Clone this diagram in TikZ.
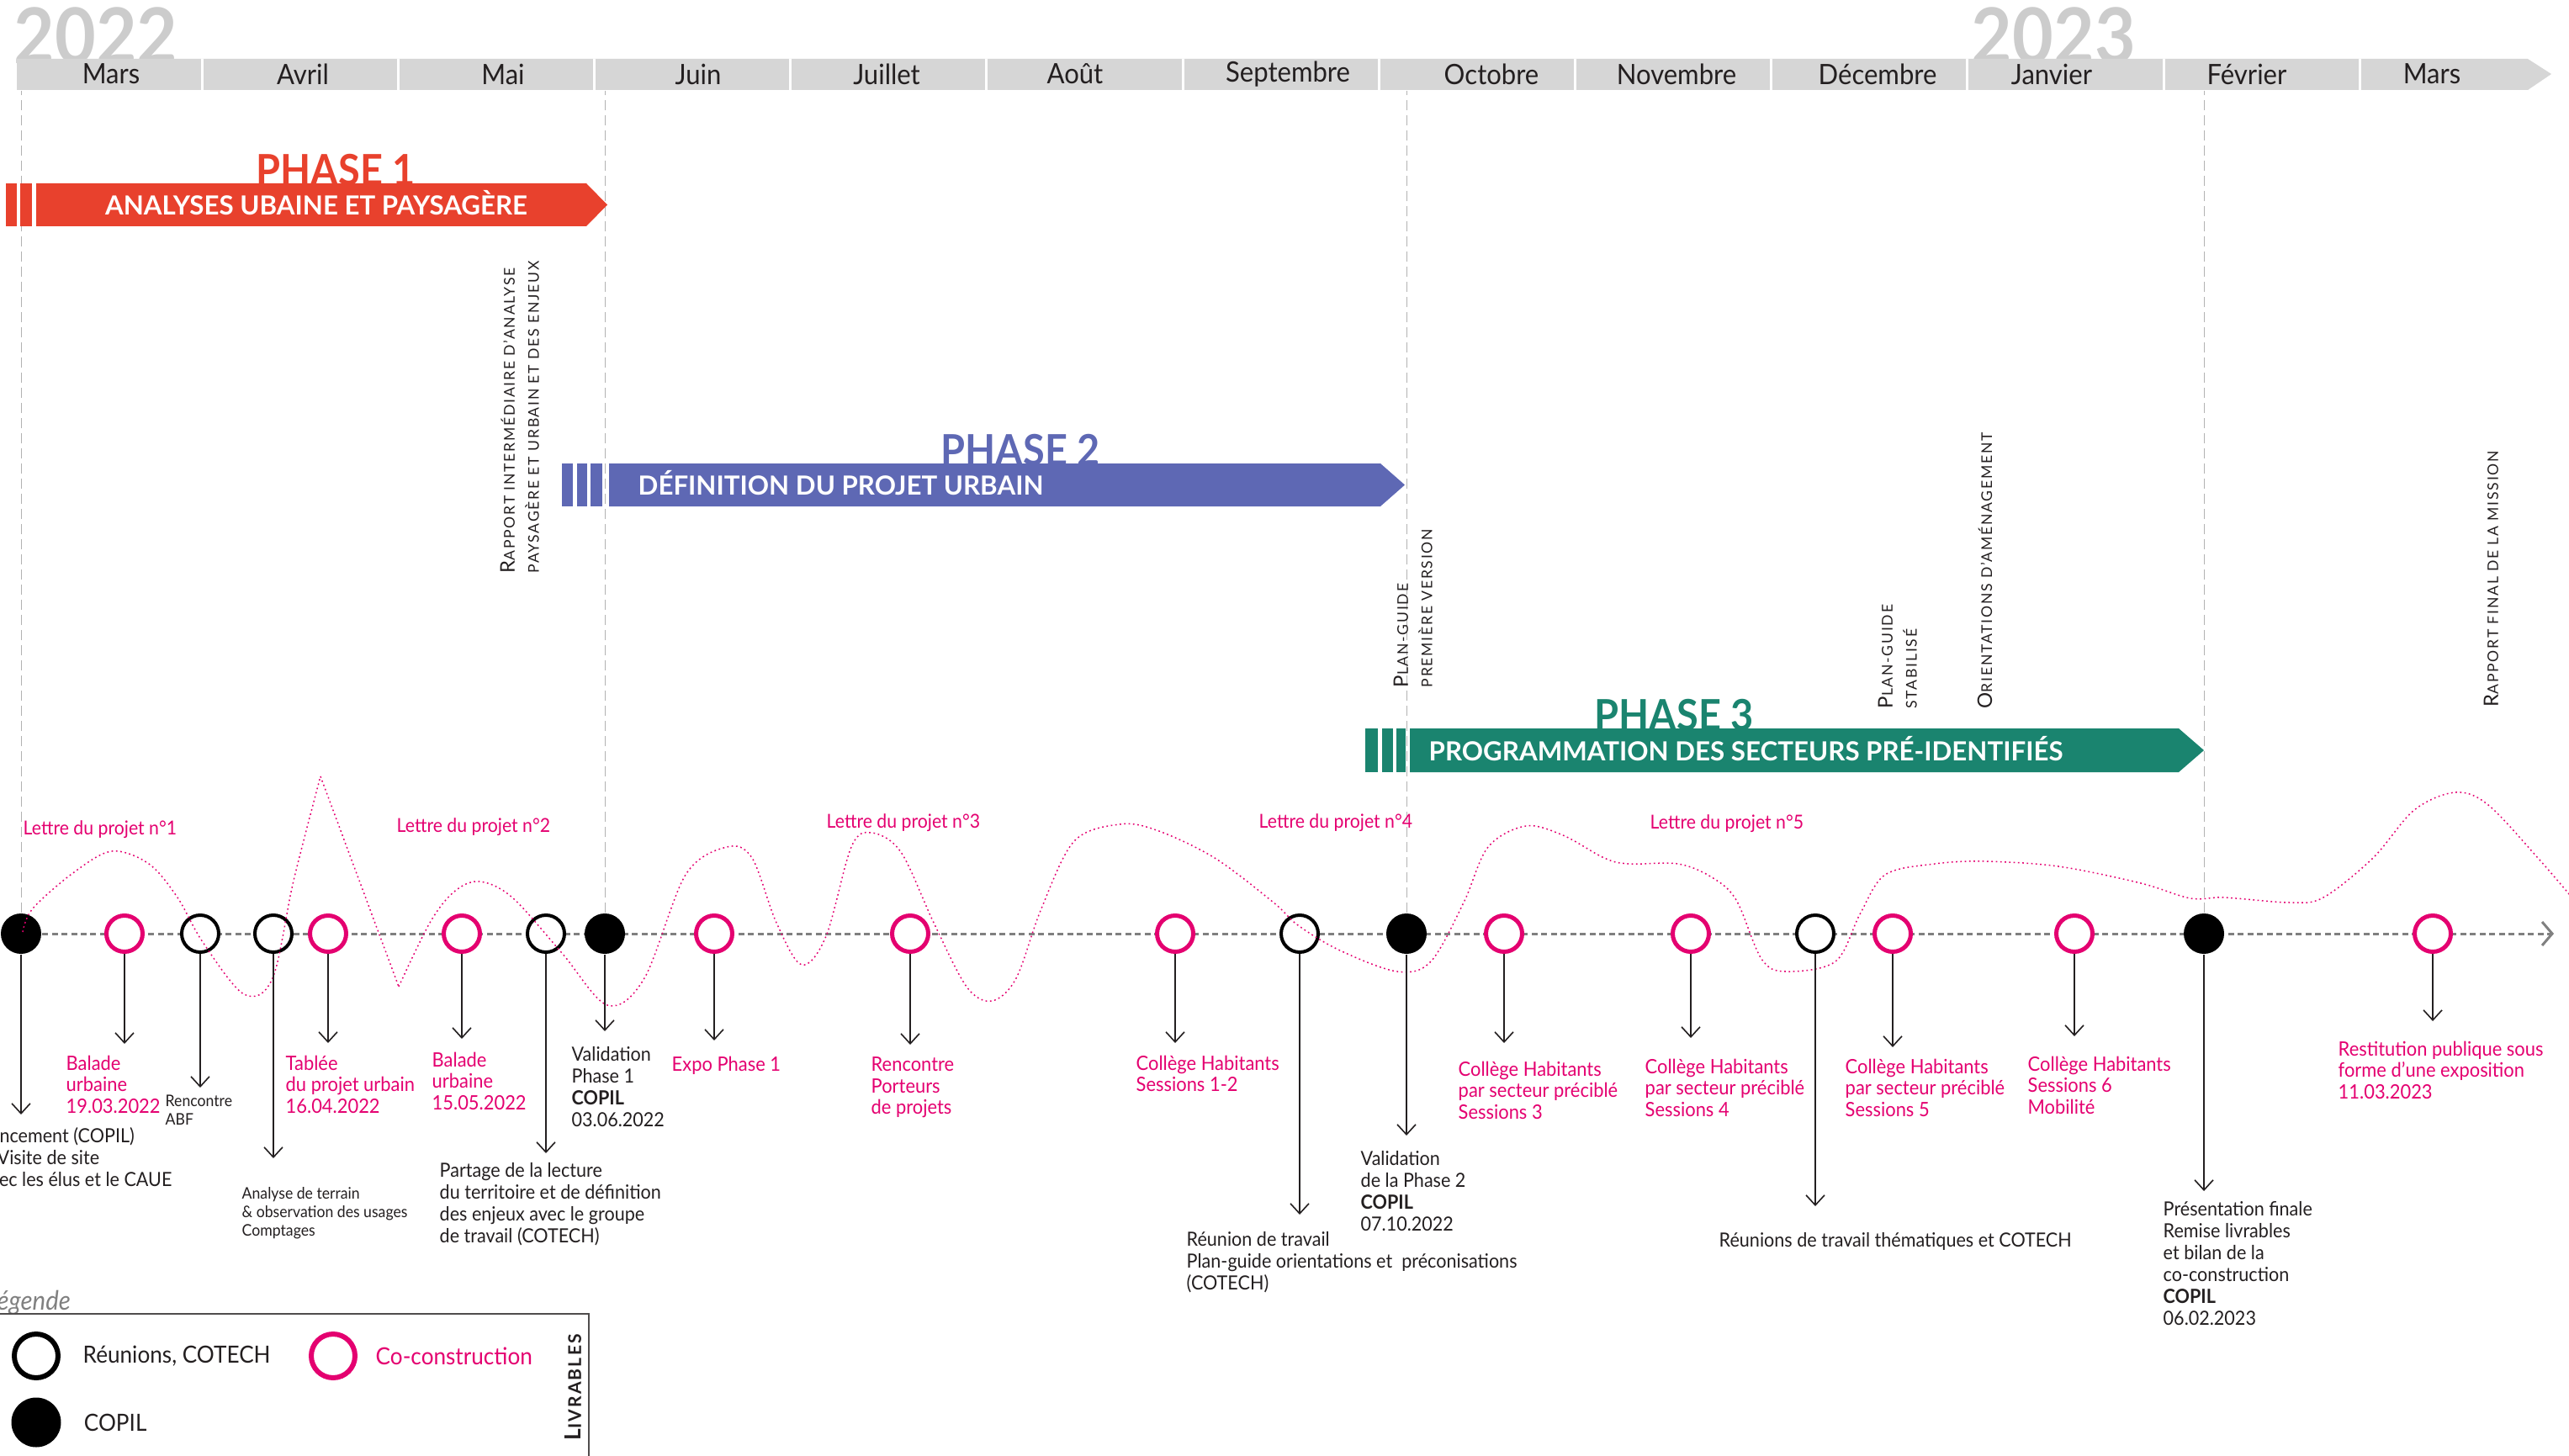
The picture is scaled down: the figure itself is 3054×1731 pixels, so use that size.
\documentclass[tikz,border=0pt]{standalone}
\usepackage{fontspec}
\setmainfont[FakeStretch=0.93]{Lato}
\newfontfamily\phasefont[FakeStretch=0.92]{Lato}
\newfontfamily\subfont{Lato}
\newfontfamily\capsfont[LetterSpace=10]{Lato}
\usepackage{tikz}
\usetikzlibrary{arrows.meta}

\definecolor{phaseone}{RGB}{232,65,45}
\definecolor{phasetwo}{RGB}{94,104,180}
\definecolor{phasethree}{RGB}{26,132,111}
\definecolor{pinkco}{RGB}{228,0,112}
\definecolor{barfill}{RGB}{214,214,214}
\definecolor{yeargrey}{RGB}{204,204,204}
\definecolor{ink}{RGB}{35,31,32}

\newcommand{\vcaps}[3][6.8]{{\fontsize{#1}{8.2}\selectfont #2}#3}

\tikzset{
    month/.style={font=\fontsize{9.5}{11}\selectfont, text=ink, inner sep=0pt},
    year/.style={font=\phasefont\bfseries\fontsize{26}{28}\selectfont, text=yeargrey, inner sep=0pt, anchor=base west},
    phasetitle/.style={font=\phasefont\bfseries\fontsize{14.5}{16}\selectfont, inner sep=0pt, anchor=base},
    phasesub/.style={font=\subfont\bfseries\fontsize{8.9}{10}\selectfont, text=white, inner sep=0pt},
    coconstr/.style={circle, draw=pinkco, line width=0.5mm, fill=white, minimum size=4.3mm, inner sep=0pt},
    cotech/.style={circle, draw=black, line width=0.4mm, fill=white, minimum size=4.4mm, inner sep=0pt},
    copil/.style={circle, fill=black, minimum size=4.8mm, inner sep=0pt},
    pinklabel/.style={font=\fontsize{6.7}{7.25}\selectfont, text=pinkco, align=left, anchor=north west, inner sep=0pt},
    inklabel/.style={font=\fontsize{6.6}{7.4}\selectfont, text=ink, align=left, anchor=north west, inner sep=0pt},
    smalllabel/.style={inklabel, font=\fontsize{5.4}{6.3}\selectfont},
    lettre/.style={font=\fontsize{6.5}{7}\selectfont, text=pinkco, anchor=north west, inner sep=0pt},
    vlabel/.style={font=\capsfont\fontsize{5}{8.2}\selectfont, text=ink, rotate=90, anchor=north west, align=left, inner sep=0pt},
    legtext/.style={font=\fontsize{8}{9}\selectfont, text=ink, anchor=west, inner sep=0pt},
    lettrecurve/.style={draw=pinkco, line width=0.15mm, dash pattern=on 0.5pt off 1pt},
    evarrow/.style={draw=ink, line width=0.16mm, -{Straight Barb[length=1.2mm,width=2.2mm]}},
    timeline/.style={draw=gray, line width=0.3mm, dash pattern=on 0.7mm off 0.45mm, -{Straight Barb[length=1.2mm,width=2.8mm]}},
    guide/.style={draw=gray!60, line width=0.1mm, dash pattern=on 1.2mm off 0.6mm}
}

\begin{document}
\begin{tikzpicture}[x=0.1mm, y=-0.1mm]

    \useasboundingbox (0,0) rectangle (3054,1731);

    \node[year] (y2022) at (16,76) {2022};
    \node[year] (y2023) at (2343,76) {2023};

    \fill[barfill] (20,70) -- (3005,70) -- (3033,88) -- (3005,107) -- (20,107) -- cycle;
    \foreach \k in {0,...,11}
        \draw[white, line width=0.3mm] ({240+233.2*\k},70) -- ++(0,37);

    \foreach \m/\x [count=\i] in {Mars/132, Avril/360, Mai/598, Juin/830, Juillet/1054, Août/1278, Septembre/1531, Octobre/1773, Novembre/1993, Décembre/2232, Janvier/2439, Février/2671, Mars/2891}
        \node[month] (m\i) at (\x,88) {\m};

    \coordinate (tlstart) at (27,1110);
    \coordinate (tlend) at (3036,1110);
    \draw[timeline] (tlstart) -- (tlend);

    \foreach \n/\x in {2/148, 5/390, 6/549, 9/849, 10/1082, 11/1397, 14/1788, 15/2010, 17/2250, 18/2466, 20/2892}
        \node[coconstr] (c\n) at (\x,1110) {};
    \foreach \n/\x in {3/238, 4/325, 7/649, 12/1545, 16/2158}
        \node[cotech] (c\n) at (\x,1110) {};
    \foreach \n/\x in {1/25, 8/719, 13/1672, 19/2620}
        \node[copil] (c\n) at (\x,1110) {};

    \coordinate (barbottom) at (0,108);
    \foreach \n in {1,8,13,19}
        \draw[guide] (c\n) -- (c\n |- barbottom);

    \node[phasetitle, text=phaseone] (ph1) at (399,221) {PHASE 1};
    \node[phasetitle, text=phasetwo] (ph2) at (1213,553) {PHASE 2};
    \node[phasetitle, text=phasethree] (ph3) at (1990,868) {PHASE 3};

    \fill[phaseone] (7,218) rectangle (20,269);
    \fill[phaseone] (24,218) rectangle (38,269);
    \fill[phaseone] (43,218) -- (697,218) -- (722,243.5) -- (697,269) -- (43,269) -- cycle;

    \fill[phasetwo] (668,551) rectangle (681,602);
    \fill[phasetwo] (686,551) rectangle (698,602);
    \fill[phasetwo] (702,551) rectangle (716,602);
    \fill[phasetwo] (724,551) -- (1641,551) -- (1670,576.5) -- (1641,602) -- (724,602) -- cycle;

    \fill[phasethree] (1623,866) rectangle (1638,918);
    \fill[phasethree] (1643,866) rectangle (1656,918);
    \fill[phasethree] (1660,866) rectangle (1671,918);
    \fill[phasethree] (1676,866) -- (2590,866) -- (2620,892) -- (2590,918) -- (1676,918) -- cycle;

    \node[phasesub, anchor=base] (sub1) at (376,256) {ANALYSES UBAINE ET PAYSAGÈRE};
    \node[phasesub, anchor=base west] (sub2) at (758,588) {DÉFINITION DU PROJET URBAIN};
    \node[phasesub, anchor=base west] (sub3) at (1698,904) {PROGRAMMATION DES SECTEURS PRÉ-IDENTIFIÉS};

    \node[vlabel] (liv1) at (594,682) {\vcaps{R}{APPORT INTERMÉDIAIRE D’ANALYSE}\\PAYSAGÈRE ET URBAIN ET DES ENJEUX};
    \node[vlabel] (liv2) at (1656,818) {\vcaps{P}{LAN-GUIDE}\\PREMIÈRE VERSION};
    \node[vlabel] (liv3) at (2232,843) {\vcaps{P}{LAN-GUIDE}\\STABILISÉ};
    \node[vlabel] (liv4) at (2350,843) {\vcaps{O}{RIENTATIONS D’AMÉNAGEMENT}};
    \node[vlabel] (liv5) at (2952,841) {\vcaps{R}{APPORT FINAL DE LA MISSION}};

    \node[lettre] (let1) at (27,975) {Lettre du projet n°1};
    \node[lettre] (let2) at (471,972) {Lettre du projet n°2};
    \node[lettre] (let3) at (982,967) {Lettre du projet n°3};
    \node[lettre] (let4) at (1496,967) {Lettre du projet n°4};
    \node[lettre] (let5) at (1961,968) {Lettre du projet n°5};

    \draw[lettrecurve] plot[smooth, tension=0.55] coordinates {(27,1108) (39,1080) (88,1037) (133,1012) (177,1027) (211,1067) (241,1120) (290,1182) (324,1163) (349,1047) (381,923)};
    \draw[lettrecurve] (381,923) -- (474,1173);
    \draw[lettrecurve] plot[smooth, tension=0.55] coordinates {(474,1173) (511,1097) (540,1060) (570,1048) (609,1067) (668,1133) (722,1195) (766,1163) (815,1040) (864,1007) (894,1020) (923,1097) (953,1147) (982,1113) (1012,1007) (1036,990) (1071,1013) (1110,1097) (1149,1173) (1179,1190) (1208,1163) (1238,1080) (1277,1000) (1331,980) (1375,987) (1444,1020) (1514,1073) (1543,1100) (1593,1130) (1661,1155) (1701,1143) (1740,1073) (1769,1007) (1814,982) (1858,993) (1907,1020) (1936,1027) (1995,1027) (2035,1043) (2064,1070) (2094,1140) (2123,1155) (2182,1143) (2211,1087) (2241,1040) (2300,1027) (2359,1024) (2447,1030) (2545,1050) (2604,1068) (2644,1067) (2722,1073) (2762,1067) (2821,1020) (2870,963) (2919,942) (2958,957) (3017,1020) (3060,1070)};

    \foreach \n/\e in {1/1325, 2/1241, 3/1293, 4/1377, 5/1240, 6/1235, 7/1371, 8/1226, 9/1237, 10/1242, 11/1240, 12/1444, 13/1350, 14/1240, 15/1234, 16/1434, 17/1245, 18/1232, 19/1416, 20/1214}
    {
        \coordinate (e\n) at (c\n |- 0,\e);
        \draw[evarrow] (c\n) -- (e\n);
    }

    \node[inklabel] (l1) at (-23,1340) {Lancement (COPIL)\\\hspace*{1.9mm}Visite de site\\avec les élus et le CAUE};
    \node[pinklabel] (l2) at (78,1254) {Balade\\urbaine\\19.03.2022};
    \node[smalllabel] (l3) at (196,1301) {Rencontre\\ABF};
    \node[smalllabel] (l4) at (287,1411) {Analyse de terrain\\\& observation des usages\\Comptages};
    \node[pinklabel] (l5) at (339,1254) {Tablée\\du projet urbain\\16.04.2022};
    \node[pinklabel] (l6) at (513,1250) {Balade\\urbaine\\15.05.2022};
    \node[inklabel] (l7) at (522,1382) {Partage de la lecture\\du territoire et de définition\\des enjeux avec le groupe\\de travail (COTECH)};
    \node[inklabel] (l8) at (679,1244) {Validation\\Phase 1\\\textbf{COPIL}\\03.06.2022};
    \node[pinklabel] (l9) at (798,1255) {Expo Phase 1};
    \node[pinklabel] (l10) at (1035,1256) {Rencontre\\Porteurs\\de projets};
    \node[pinklabel] (l11) at (1350,1254) {Collège Habitants\\Sessions 1-2};
    \node[inklabel] (l12) at (1410,1464) {Réunion de travail\\Plan-guide orientations et\ \ préconisations\\(COTECH)};
    \node[inklabel] (l13) at (1617,1368) {Validation\\de la Phase 2\\\textbf{COPIL}\\07.10.2022};
    \node[pinklabel] (l14) at (1733,1261) {Collège Habitants\\par secteur préciblé\\Sessions 3};
    \node[pinklabel] (l15) at (1955,1258) {Collège Habitants\\par secteur préciblé\\Sessions 4};
    \node[inklabel] (l16) at (2043,1465) {Réunions de travail thématiques et COTECH};
    \node[pinklabel] (l17) at (2193,1258) {Collège Habitants\\par secteur préciblé\\Sessions 5};
    \node[pinklabel] (l18) at (2410,1255) {Collège Habitants\\Sessions 6\\Mobilité};
    \node[inklabel] (l19) at (2571,1428) {Présentation finale\\Remise livrables\\et bilan de la\\co-construction\\\textbf{COPIL}\\06.02.2023};
    \node[pinklabel] (l20) at (2779,1237) {Restitution publique sous\\forme d’une exposition\\11.03.2023};

    \node[font=\itshape\fontsize{9}{10}\selectfont, text=gray, anchor=base west, inner sep=0pt] (legtitle) at (-17,1557) {Légende};
    \draw[ink!80, line width=0.2mm] (0,1562) -- (700,1562) -- (700,1740);

    \node[cotech, minimum size=5.2mm, line width=0.6mm] (legcotech) at (43,1612) {};
    \node[legtext] (legcotechtext) at ([xshift=2.6mm]legcotech.east) {Réunions, COTECH};
    \node[coconstr, minimum size=5.2mm, line width=0.6mm] (legcocon) at (396,1612) {};
    \node[legtext, text=pinkco] (legcocontext) at ([xshift=2.1mm]legcocon.east) {Co-construction};
    \node[copil, minimum size=5.9mm] (legcopil) at (43,1691) {};
    \node[legtext] (legcopiltext) at ([xshift=2.6mm]legcopil.east) {COPIL};

    \node[vlabel, font=\capsfont\bfseries\fontsize{6}{7.7}\selectfont] (livrables) at (671,1713) {\vcaps[7.5]{L}{IVRABLES}};

\end{tikzpicture}
\end{document}
